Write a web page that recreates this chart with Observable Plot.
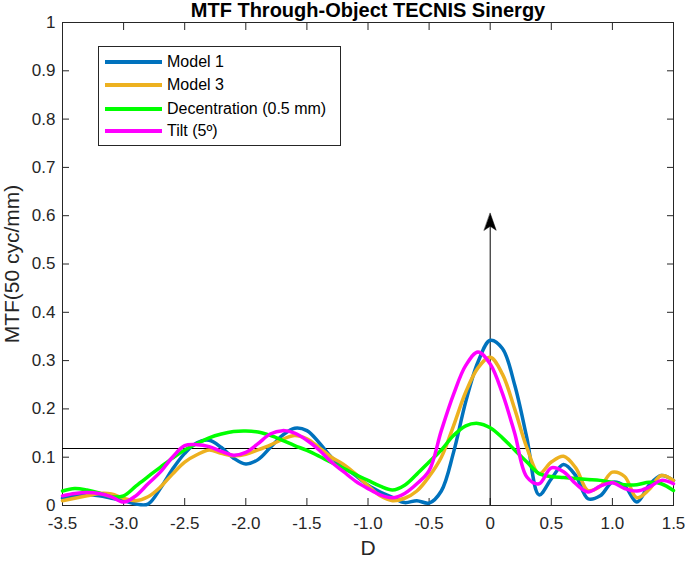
<!DOCTYPE html>
<html>
<head>
<meta charset="utf-8">
<script src="https://cdn.jsdelivr.net/npm/d3@7"></script>
<script src="https://cdn.jsdelivr.net/npm/@observablehq/plot@0.6"></script>
<style>
  body { margin: 0; background: #fff; }
  #wrap { position: relative; width: 685px; height: 561px; font-family: "Liberation Sans", Arial, sans-serif; }
  #legend { position: absolute; left: 98px; top: 46px; width: 241px; height: 98px; border: 1px solid #262626; background: #fff; box-sizing: content-box; }
  .item { position: absolute; left: 6px; height: 20px; display: flex; align-items: center; font-size: 16px; color: #000; white-space: nowrap; }
  .item span.sw { display: inline-block; width: 57px; height: 4px; margin-right: 5px; }
</style>
</head>
<body>
<div id="wrap"><div id="legend"></div></div>
<script>
// ---- data ----
const titleText = "MTF Through-Object TECNIS Sinergy";
const xLabel = "D";
const yLabel = "MTF(50 cyc/mm)";
const seriesNames = ["Model 1", "Model 3", "Decentration (0.5 mm)", "Tilt (5º)"];
const seriesColors = ["#0072BD", "#EDB120", "#00FF00", "#FF00FF"];

const D = [-3.5,-3.4,-3.3,-3.2,-3.1,-3.0,-2.9,-2.8,-2.7,-2.6,-2.5,-2.4,-2.3,-2.2,-2.1,-2.0,-1.9,-1.8,-1.7,-1.6,-1.5,-1.4,-1.3,-1.2,-1.1,-1.0,-0.9,-0.8,-0.7,-0.6,-0.5,-0.4,-0.3,-0.2,-0.1,0.0,0.1,0.2,0.3,0.4,0.5,0.6,0.7,0.8,0.9,1.0,1.1,1.2,1.3,1.4,1.5];

const model1 = [0.015,0.02,0.022,0.02,0.015,0.01,0.003,0.003,0.035,0.075,0.108,0.13,0.135,0.12,0.098,0.086,0.095,0.12,0.145,0.16,0.155,0.13,0.1,0.08,0.062,0.042,0.028,0.017,0.006,0.01,0.005,0.03,0.11,0.215,0.297,0.342,0.325,0.25,0.14,0.022,0.055,0.085,0.062,0.014,0.02,0.048,0.04,0.007,0.042,0.062,0.052];

const model3 = [0.01,0.015,0.02,0.025,0.024,0.015,0.01,0.018,0.038,0.065,0.09,0.105,0.115,0.108,0.103,0.106,0.115,0.125,0.137,0.145,0.138,0.12,0.1,0.085,0.065,0.041,0.02,0.01,0.015,0.03,0.06,0.1,0.165,0.235,0.285,0.307,0.272,0.2,0.12,0.066,0.09,0.102,0.078,0.031,0.04,0.069,0.06,0.016,0.033,0.062,0.052];

const decentration = [0.03,0.035,0.032,0.026,0.018,0.02,0.04,0.06,0.079,0.098,0.115,0.128,0.14,0.148,0.153,0.154,0.152,0.145,0.135,0.124,0.114,0.102,0.089,0.077,0.064,0.052,0.04,0.032,0.042,0.065,0.09,0.115,0.145,0.165,0.17,0.161,0.14,0.115,0.09,0.066,0.06,0.058,0.056,0.054,0.052,0.048,0.043,0.043,0.048,0.045,0.031];

const tilt = [0.02,0.025,0.027,0.025,0.018,0.007,0.02,0.045,0.069,0.1,0.124,0.126,0.122,0.112,0.104,0.11,0.128,0.148,0.155,0.15,0.135,0.115,0.09,0.07,0.05,0.035,0.022,0.016,0.025,0.045,0.072,0.155,0.23,0.29,0.318,0.293,0.232,0.15,0.059,0.045,0.078,0.07,0.045,0.028,0.04,0.047,0.035,0.03,0.038,0.052,0.045];

const xTicks = [-3.5,-3.0,-2.5,-2.0,-1.5,-1.0,-0.5,0,0.5,1.0,1.5];
const xTickLabels = ["-3.5","-3.0","-2.5","-2.0","-1.5","-1.0","-0.5","0","0.5","1.0","1.5"];
const yTicks = [0,0.1,0.2,0.3,0.4,0.5,0.6,0.7,0.8,0.9,1];
const yTickLabels = ["0","0.1","0.2","0.3","0.4","0.5","0.6","0.7","0.8","0.9","1"];

const thresholdY = [0.118];
const arrowX = [0];
const arrowFrom = 0;
const arrowTo = 0.605;

// ---- build table ----
const allSeries = [model1, model3, decentration, tilt];
const rows = [];
allSeries.forEach((vals, s) => vals.forEach((v, i) => rows.push({D: D[i], v, s: seriesNames[s]})));

const axisColor = "#262626";
const font = '"Liberation Sans", Arial, sans-serif';

const arrowHead = {
  draw(context, l) {
    context.moveTo(0, -l);
    context.lineTo(6, 0);
    context.lineTo(0, -4);
    context.lineTo(-6, 0);
    context.closePath();
  }
};

const chart = Plot.plot({
  width: 685,
  height: 561,
  marginLeft: 62,
  marginRight: 12,
  marginTop: 22,
  marginBottom: 56,
  style: {fontFamily: font, background: "white", color: axisColor, overflow: "visible"},
  x: {domain: [-3.5, 1.5]},
  y: {domain: [0, 1]},
  color: {domain: seriesNames, range: seriesColors},
  marks: [
    Plot.frame({stroke: axisColor, strokeWidth: 1}),
    Plot.axisX({anchor: "bottom", ticks: xTicks, tickSize: -7, tickPadding: 18, fontSize: 17, label: null,
      tickFormat: (d, i) => xTickLabels[i], stroke: axisColor, fill: axisColor}),
    Plot.axisX({anchor: "top", ticks: xTicks, tickSize: -7, label: null, tickFormat: () => "", stroke: axisColor}),
    Plot.axisY({anchor: "left", ticks: yTicks, tickSize: -7, tickPadding: 14, fontSize: 17, label: null,
      tickFormat: (d, i) => yTickLabels[i], stroke: axisColor, fill: axisColor}),
    Plot.axisY({anchor: "right", ticks: yTicks, tickSize: -7, label: null, tickFormat: () => "", stroke: axisColor}),
    Plot.ruleY(thresholdY, {stroke: "black", strokeWidth: 1}),
    Plot.ruleX(arrowX, {y1: arrowFrom, y2: arrowTo - 0.02, stroke: "black", strokeWidth: 1}),
    Plot.vector(arrowX, {x: d => d, y: () => arrowTo, length: 17, anchor: "end", rotate: 0, shape: arrowHead, fill: "black", stroke: "black", strokeWidth: 0.5}),
    Plot.line(rows, {x: "D", y: "v", z: "s", stroke: "s", strokeWidth: 3.5, curve: "catmull-rom"}),
    Plot.text([titleText], {frameAnchor: "top", dy: -12, fontSize: 20, fontWeight: "bold", fill: "black", lineAnchor: "middle"}),
    Plot.text([yLabel], {frameAnchor: "left", dx: -50.5, rotate: -90, fontSize: 21, fill: axisColor, lineAnchor: "middle", textAnchor: "middle"}),
    Plot.text([xLabel], {frameAnchor: "bottom", dy: 43, fontSize: 21, fill: axisColor, lineAnchor: "middle"})
  ]
});

const wrap = document.getElementById("wrap");
wrap.insertBefore(chart, wrap.firstChild);

const legend = document.getElementById("legend");
const legendTops = [5, 28, 52, 74];
seriesNames.forEach((name, i) => {
  const div = document.createElement("div");
  div.className = "item";
  div.style.top = legendTops[i] + "px";
  const sw = document.createElement("span");
  sw.className = "sw";
  sw.style.background = seriesColors[i];
  div.appendChild(sw);
  div.appendChild(document.createTextNode(name));
  legend.appendChild(div);
});
</script>
</body>
</html>
